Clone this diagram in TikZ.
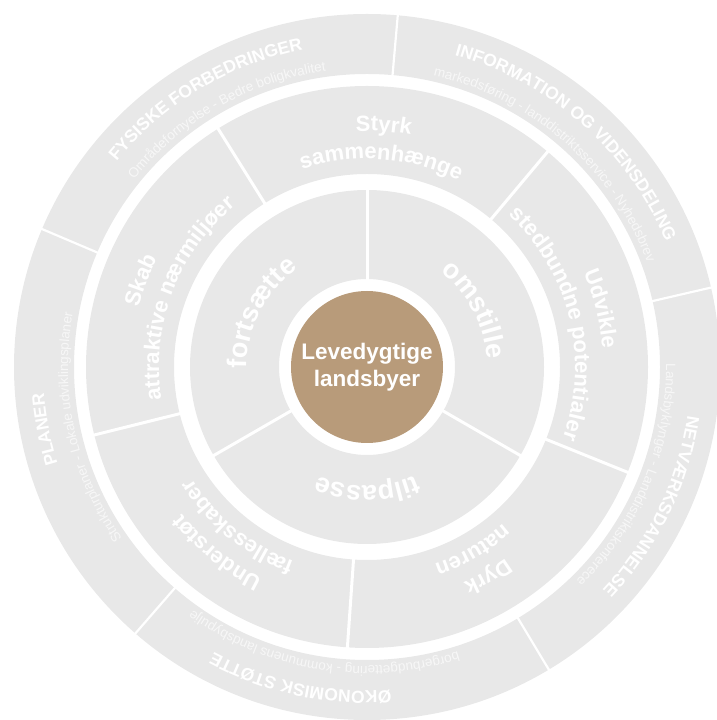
\documentclass[tikz,border=0pt]{standalone}
\usepackage{fontspec}
\setmainfont{Liberation Sans}
\usetikzlibrary{decorations.text}
\definecolor{ringgray}{RGB}{232,232,232}
\definecolor{subwhite}{RGB}{247,247,247}
\definecolor{centerbrown}{RGB}{184,155,122}
\newcommand\myTitleF{\bfseries\fontsize{17.5}{17.5}\selectfont}
\newcommand\mySubF{\fontsize{13.5}{13.5}\selectfont}
\newcommand\myMidF{\bfseries\fontsize{22}{22}\selectfont}
\newcommand\myInF{\bfseries\fontsize{27}{27}\selectfont}
% angle, radius, font, colour, text  (clockwise arc, tops outward, centred)
\newcommand\myArcText[5]{\path[decorate,decoration={text along path,text align=center,text color=#4,text={|#3|#5}}] ({#1+75}:#2) arc[start angle={#1+75},end angle={#1-75},radius=#2];}
\tikzset{
  divider/.style={white,line width=3pt},
  thindivider/.style={white,line width=2.2pt},
  hubnode/.style={circle,fill=centerbrown,minimum size=152pt,inner sep=0pt,text=white,
    font=\bfseries\fontsize{22.5}{27}\selectfont,align=center}
}
\begin{document}
\begin{tikzpicture}[x=1pt,y=1pt]
\useasboundingbox (0,0) rectangle (716,720);
\begin{scope}[shift={(367,353)}]
% rings
\fill[ringgray,even odd rule] (0,0) circle[radius=353] (0,0) circle[radius=293];
\fill[ringgray,even odd rule] (0,0) circle[radius=281] (0,0) circle[radius=193];
\fill[ringgray,even odd rule] (0,0) circle[radius=177] (0,0) circle[radius=88];
% dividers
\foreach \a in {85,13,-59,-131,157} \draw[thindivider] (\a:291) -- (\a:355);
\foreach \a in {50,122,194,266,338} \draw[divider] (\a:191) -- (\a:283);
\foreach \a in {90,210,330} \draw[divider] (\a:86) -- (\a:179);
% outer ring texts
\myArcText{121}{324}{\myTitleF}{white}{FYSISKE FORBEDRINGER}
\myArcText{119.5}{299}{\mySubF}{subwhite}{Områdefornyelse - Bedre boligkvalitet}
\myArcText{48.5}{324}{\myTitleF}{white}{INFORMATION OG VIDENSDELING}
\myArcText{48.8}{299}{\mySubF}{subwhite}{markedsføring - landdistriktsservice - Nyhedsbrev}
\myArcText{-26}{324}{\myTitleF}{white}{NETVÆRKSDANNELSE}
\myArcText{-22.5}{299}{\mySubF}{subwhite}{Landsbyklynger - Landdistriktskonferece}
\myArcText{-102}{324}{\myTitleF}{white}{ØKONOMISK STØTTE}
\myArcText{-99}{299}{\mySubF}{subwhite}{borgerbudgettering - kommunens landsbypulje}
\myArcText{191}{324}{\myTitleF}{white}{PLANER}
\myArcText{192.3}{299}{\mySubF}{subwhite}{Strukturplaner - Lokale udviklingsplaner}
% middle ring texts
\myArcText{86}{236}{\myMidF}{white}{Styrk}
\myArcText{86}{208}{\myMidF}{white}{sammenhænge}
\myArcText{14}{236}{\myMidF}{white}{Udvikle}
\myArcText{13.5}{208}{\myMidF}{white}{stedbundne potentialer}
\myArcText{-60}{236}{\myMidF}{white}{Dyrk}
\myArcText{-60}{208}{\myMidF}{white}{naturen}
\myArcText{231}{236}{\myMidF}{white}{Understøt}
\myArcText{231}{208}{\myMidF}{white}{fællesskaber}
\myArcText{159}{236}{\myMidF}{white}{Skab}
\myArcText{159}{208}{\myMidF}{white}{attraktive nærmiljøer}
% inner ring texts
\myArcText{28}{120}{\myInF}{white}{omstille}
\myArcText{270}{119}{\myInF}{white}{tilpasse}
\myArcText{153}{120}{\myInF}{white}{fortsætte}
% hub
\node[hubnode] (hub) at (0,0) {Levedygtige\\landsbyer};
\end{scope}
\end{tikzpicture}
\end{document}
